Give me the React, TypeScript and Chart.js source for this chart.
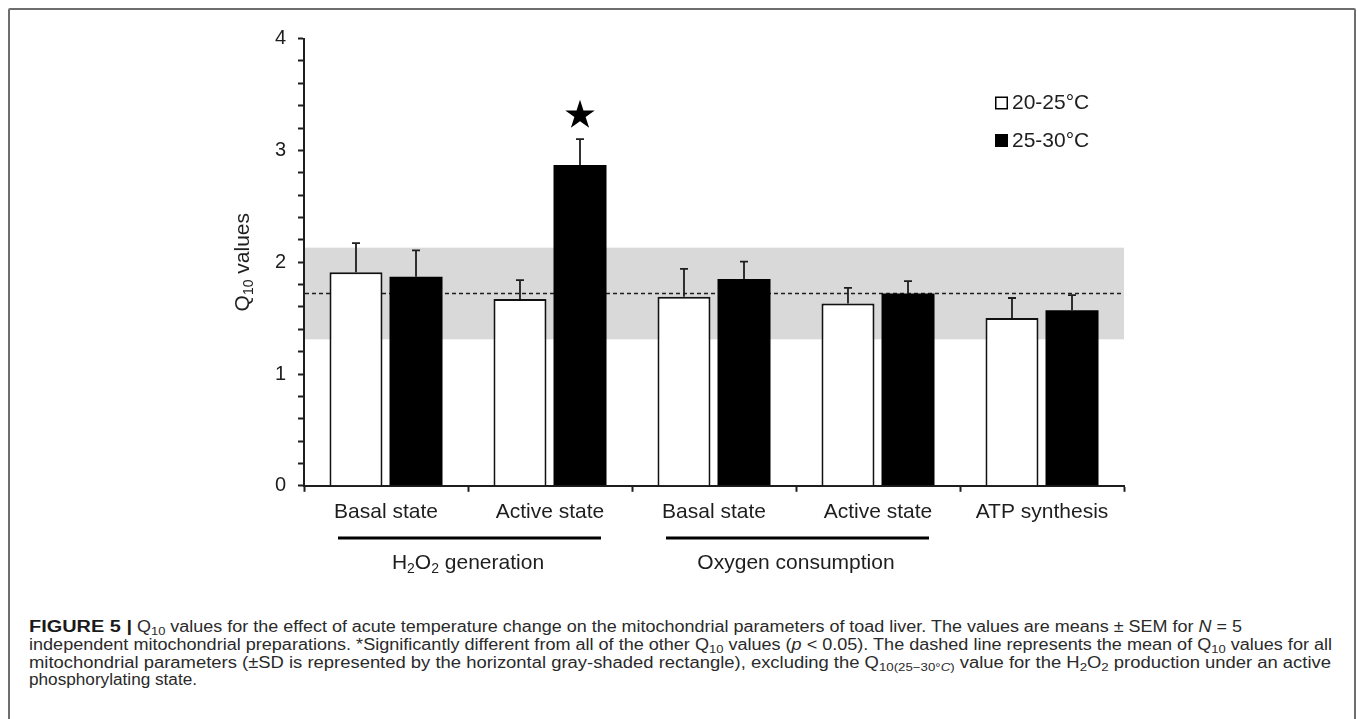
import React, { useEffect, useLayoutEffect, useRef } from 'react';
import { Chart, registerables } from 'chart.js';

Chart.register(...registerables);

// ---------- data ----------
const categories = ['Basal state', 'Active state', 'Basal state', 'Active state', 'ATP synthesis'];
const seriesLabels = ['20-25°C', '25-30°C'];
const q10Low = [1.91, 1.67, 1.69, 1.63, 1.5];
const q10High = [1.87, 2.87, 1.85, 1.72, 1.57];
const semLow = [0.26, 0.17, 0.25, 0.14, 0.18];
const semHigh = [0.235, 0.23, 0.155, 0.11, 0.135];
const meanQ10 = 1.72;
const sdBandLow = 1.31;
const sdBandHigh = 2.13;
const yTickValues = [0, 0.2, 0.4, 0.6, 0.8, 1, 1.2, 1.4, 1.6, 1.8, 2, 2.2, 2.4, 2.6, 2.8, 3, 3.2, 3.4, 3.6, 3.8, 4];
const yLabelValues = [0, 1, 2, 3, 4];
const significantIndex = 1; // star over the 25-30°C bar of this category
const groupNames = [
  [{ t: 'H' }, { t: '2', sub: true }, { t: 'O' }, { t: '2', sub: true }, { t: ' generation' }],
  [{ t: 'Oxygen consumption' }],
];
const groupFrom = [0, 2];
const groupTo = [1, 3];

const FONT = '"Liberation Sans", Arial, Helvetica, sans-serif';
const INK = '#1e1e1e';

type Run = { t: string; sub?: boolean };

function drawRuns(ctx: CanvasRenderingContext2D, runs: Run[], cx: number, cy: number, size: number, subSize: number, subShift: number) {
  const main = `${size}px ${FONT}`;
  const small = `${subSize}px ${FONT}`;
  let total = 0;
  const widths = runs.map((r) => {
    ctx.font = r.sub ? small : main;
    const w = ctx.measureText(r.t).width;
    total += w;
    return w;
  });
  let x = cx - total / 2;
  ctx.textAlign = 'left';
  ctx.textBaseline = 'middle';
  runs.forEach((r, i) => {
    ctx.font = r.sub ? small : main;
    ctx.fillText(r.t, x, cy + (r.sub ? subShift : 0));
    x += widths[i];
  });
}

const decor = {
  id: 'decor',
  beforeDatasetsDraw(chart: any) {
    const { ctx, chartArea } = chart;
    const y = chart.scales.y;
    ctx.save();
    const yTop = y.getPixelForValue(sdBandHigh);
    const yBot = y.getPixelForValue(sdBandLow);
    ctx.fillStyle = '#d9d9d9';
    ctx.fillRect(chartArea.left + 1, yTop, chartArea.right - chartArea.left - 1, yBot - yTop);
    const ym = y.getPixelForValue(meanQ10);
    ctx.strokeStyle = INK;
    ctx.lineWidth = 1.5;
    ctx.setLineDash([4, 3]);
    ctx.beginPath();
    ctx.moveTo(chartArea.left + 1, ym);
    ctx.lineTo(chartArea.right, ym);
    ctx.stroke();
    ctx.restore();
  },
  afterDatasetsDraw(chart: any) {
    const { ctx } = chart;
    const y = chart.scales.y;
    const sems = [semLow, semHigh];
    const vals = [q10Low, q10High];
    ctx.save();
    ctx.strokeStyle = INK;
    ctx.lineWidth = 1.8;
    for (let d = 0; d < 2; d++) {
      const meta = chart.getDatasetMeta(d);
      meta.data.forEach((bar: any, i: number) => {
        const top = y.getPixelForValue(vals[d][i] + sems[d][i]);
        ctx.beginPath();
        ctx.moveTo(bar.x, bar.y);
        ctx.lineTo(bar.x, top);
        ctx.moveTo(bar.x - 4, top);
        ctx.lineTo(bar.x + 4, top);
        ctx.stroke();
      });
    }
    // star
    const sbar = chart.getDatasetMeta(1).data[significantIndex];
    const errTop = y.getPixelForValue(q10High[significantIndex] + semHigh[significantIndex]);
    const cx = sbar.x;
    const cy = errTop - 24;
    const R = 15.5;
    const r = R * 0.382;
    ctx.fillStyle = '#000';
    ctx.beginPath();
    for (let k = 0; k < 10; k++) {
      const ang = -Math.PI / 2 + (k * Math.PI) / 5;
      const rad = k % 2 === 0 ? R : r;
      const px = cx + rad * Math.cos(ang);
      const py = cy + rad * Math.sin(ang);
      if (k === 0) ctx.moveTo(px, py);
      else ctx.lineTo(px, py);
    }
    ctx.closePath();
    ctx.fill();
    ctx.restore();
  },
  afterDraw(chart: any) {
    const { ctx, chartArea } = chart;
    const x = chart.scales.x;
    ctx.save();
    ctx.fillStyle = INK;
    // y title: Q10 values
    ctx.translate(243, (chartArea.top + chartArea.bottom) / 2);
    ctx.rotate(-Math.PI / 2);
    drawRuns(ctx, [{ t: 'Q' }, { t: '10', sub: true }, { t: ' values' }], 0, 0, 21, 14, 6);
    ctx.restore();

    // legend
    ctx.save();
    const colors = [
      { fill: '#ffffff', stroke: '#000' },
      { fill: '#000000', stroke: '#000' },
    ];
    const legTops = [96.5, 134];
    seriesLabels.forEach((lab, i) => {
      ctx.fillStyle = colors[i].fill;
      ctx.fillRect(995, legTops[i], 13, 13);
      ctx.strokeStyle = colors[i].stroke;
      ctx.lineWidth = 1.5;
      ctx.strokeRect(995.75, legTops[i] + 0.75, 11.5, 11.5);
      ctx.fillStyle = INK;
      ctx.font = `21px ${FONT}`;
      ctx.textAlign = 'left';
      ctx.textBaseline = 'middle';
      ctx.fillText(lab, 1012, legTops[i] + 7);
    });
    ctx.restore();

    // group rules and names
    ctx.save();
    ctx.strokeStyle = '#000';
    ctx.lineWidth = 3;
    ctx.fillStyle = INK;
    groupNames.forEach((runs, g) => {
      const x0 = x.getPixelForValue(groupFrom[g]);
      const x1 = x.getPixelForValue(groupTo[g]);
      ctx.beginPath();
      ctx.moveTo(x0 - 48, 538);
      ctx.lineTo(x1 + 51, 538);
      ctx.stroke();
      drawRuns(ctx, runs as Run[], (x0 + x1) / 2, 563, 21, 14, 6);
    });
    ctx.restore();
  },
};

// caption segments: [line, left offset, target width, content]
type Seg = { line: number; left: number; width: number; bold?: boolean; node: React.ReactNode };
const captionSegs: Seg[] = [
  { line: 0, left: 0, width: 103, bold: true, node: <>FIGURE 5 |</> },
  {
    line: 0,
    left: 108,
    width: 1105,
    node: (
      <>
        Q<sub>10</sub> values for the effect of acute temperature change on the mitochondrial parameters of toad liver. The values are means ± SEM for <i>N</i> = 5
      </>
    ),
  },
  {
    line: 1,
    left: 0,
    width: 1303,
    node: (
      <>
        independent mitochondrial preparations. *Significantly different from all of the other Q<sub>10</sub> values (<i>p</i> &lt; 0.05). The dashed line represents the mean of Q<sub>10</sub> values for all
      </>
    ),
  },
  {
    line: 2,
    left: 0,
    width: 1302,
    node: (
      <>
        mitochondrial parameters (±SD is represented by the horizontal gray-shaded rectangle), excluding the Q<sub>10(25−30°<i>C</i>)</sub> value for the H<sub>2</sub>O<sub>2</sub> production under an active
      </>
    ),
  },
  { line: 3, left: 0, width: 168, node: <>phosphorylating state.</> },
];

export default function App() {
  const canvasRef = useRef<HTMLCanvasElement | null>(null);
  const segRefs = useRef<(HTMLSpanElement | null)[]>([]);

  useEffect(() => {
    const canvas = canvasRef.current;
    if (!canvas) return;
    Chart.defaults.font.family = FONT;
    const chart = new Chart(canvas, {
      type: 'bar',
      data: {
        labels: categories,
        datasets: [
          {
            label: seriesLabels[0],
            data: q10Low,
            backgroundColor: '#ffffff',
            borderColor: '#111111',
            borderWidth: 2,
            borderSkipped: 'start',
            categoryPercentage: 0.732,
            barPercentage: 0.883,
          },
          {
            label: seriesLabels[1],
            data: q10High,
            backgroundColor: '#000000',
            borderColor: '#000000',
            borderWidth: 0,
            categoryPercentage: 0.732,
            barPercentage: 0.883,
          },
        ],
      },
      options: {
        responsive: false,
        animation: false,
        devicePixelRatio: 1,
        events: [],
        layout: { padding: { left: 0, right: 233, top: 38.6, bottom: 0 } },
        plugins: {
          legend: { display: false },
          tooltip: { enabled: false },
        },
        scales: {
          x: {
            type: 'category',
            offset: true,
            grid: { offset: true, drawOnChartArea: false, tickLength: 6, tickWidth: 2, tickColor: INK },
            border: { color: INK, width: 2 },
            ticks: { font: { size: 21, family: FONT }, color: INK, padding: 8, maxRotation: 0, autoSkip: false },
            afterFit: (s: any) => {
              s.height = 114.2;
            },
          },
          y: {
            min: 0,
            max: 4,
            afterBuildTicks: (s: any) => {
              s.ticks = yTickValues.map((v) => ({ value: v }));
            },
            grid: { drawOnChartArea: false, tickLength: 6, tickWidth: 2, tickColor: INK },
            border: { color: INK, width: 2 },
            ticks: {
              autoSkip: false,
              font: { size: 20, family: FONT },
              color: INK,
              padding: 12,
              callback: (v: any) => (yLabelValues.includes(Number(v)) ? String(v) : ''),
            },
            afterFit: (s: any) => {
              s.width = 304;
            },
          },
        },
      } as any,
      plugins: [decor],
    });
    return () => chart.destroy();
  }, []);

  useLayoutEffect(() => {
    segRefs.current.forEach((el, i) => {
      if (!el) return;
      el.style.transform = 'none';
      const w = el.getBoundingClientRect().width;
      if (w > 0) el.style.transform = `scaleX(${captionSegs[i].width / w})`;
    });
  }, []);

  return (
    <div style={{ position: 'fixed', left: 0, top: 0, width: 1357, height: 719, overflow: 'hidden', background: '#fff' }}>
      <div
        style={{
          position: 'absolute',
          left: 8,
          top: 8,
          width: 1348,
          height: 760,
          boxSizing: 'border-box',
          border: '2px solid #6e6e6e',
          borderRadius: 2,
        }}
      />
      <canvas ref={canvasRef} width={1357} height={600} style={{ position: 'absolute', left: 0, top: 0, width: 1357, height: 600 }} />
      <div
        style={{
          position: 'absolute',
          left: 29,
          top: 618,
          width: 1320,
          height: 80,
          fontFamily: FONT,
          fontSize: 16,
          color: '#2a2a2a',
          lineHeight: '17.8px',
        }}
      >
        <style>{`.cap sub{font-size:0.72em;vertical-align:-0.28em;line-height:0}`}</style>
        {captionSegs.map((s, i) => (
          <span
            key={i}
            className="cap"
            ref={(el) => {
              segRefs.current[i] = el;
            }}
            style={{
              position: 'absolute',
              left: s.left,
              top: s.line * 17.8,
              display: 'inline-block',
              whiteSpace: 'nowrap',
              transformOrigin: 'left center',
              fontWeight: s.bold ? 700 : 400,
              color: s.bold ? '#1a1a1a' : '#2a2a2a',
            }}
          >
            {s.node}
          </span>
        ))}
      </div>
    </div>
  );
}
